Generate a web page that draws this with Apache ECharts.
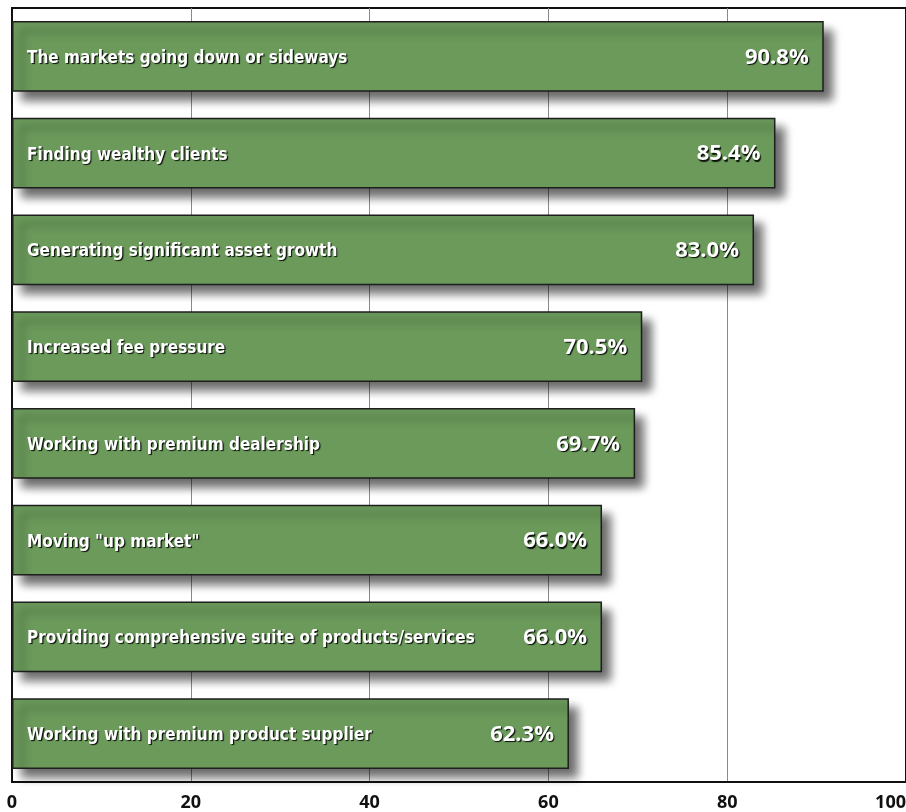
<!DOCTYPE html>
<html><head><meta charset="utf-8">
<script src="https://cdn.jsdelivr.net/npm/echarts@6/dist/echarts.min.js"></script>
<style>html,body{margin:0;padding:0;background:#fff}#c{width:906px;height:812px}</style>
</head><body><div id="c"></div>
<script>
const categories = [
  "The markets going down or sideways",
  "Finding wealthy clients",
  "Generating significant asset growth",
  "Increased fee pressure",
  "Working with premium dealership",
  "Moving \"up market\"",
  "Providing comprehensive suite of products/services",
  "Working with premium product supplier"
];
const values = [90.8, 85.4, 83.0, 70.5, 69.7, 66.0, 66.0, 62.3];
const xTicks = [0, 20, 40, 60, 80, 100];

const chart = echarts.init(document.getElementById('c'));
const shadowTxt = {textShadowColor:'rgba(0,0,0,0.9)', textShadowOffsetX:1.2, textShadowOffsetY:1.2, textShadowBlur:1};
chart.setOption({
  animation:false,
  grid:{left:12, right:0, top:8, bottom:30, containLabel:false, outerBoundsMode:'none',
    show:true, borderColor:'#111', borderWidth:2, backgroundColor:'transparent'},
  xAxis:{type:'value', min:0, max:100, interval:20,
    axisLine:{show:true, lineStyle:{color:'#111', width:2}},
    axisTick:{show:false},
    splitLine:{show:true, lineStyle:{color:'#8a8a8a', width:1}},
    axisLabel:{color:'#111', fontFamily:'Open Sans', fontWeight:'bold', fontSize:18, margin:12,
      alignMaxLabel:'right',
      formatter:v=>xTicks.includes(v)?String(v):''}
  },
  yAxis:{type:'category', data:categories, inverse:true,
    axisLine:{show:true, lineStyle:{color:'#111', width:2}},
    axisTick:{show:false}, axisLabel:{show:false}, splitLine:{show:false}
  },
  series:[
    {type:'bar', data:values, barCategoryGap:'27%', z:2,
      itemStyle:{color:'#6b9a5b', borderColor:'#1e1e1e', borderWidth:1.5,
        shadowColor:'rgba(0,0,0,0.6)', shadowBlur:9, shadowOffsetX:9, shadowOffsetY:9},
      label:{show:true, position:'insideRight', distance:15, offset:[0,1], color:'#fff',
        fontFamily:'Open Sans', fontWeight:'bold', fontSize:22,
        formatter:p=>p.value.toFixed(1)+'%', ...shadowTxt}
    },
    {type:'bar', data:values, barGap:'-100%', barCategoryGap:'27%', z:3, silent:true,
      itemStyle:{color:'rgba(0,0,0,0)'},
      label:{show:true, position:'insideLeft', distance:15, offset:[0,2], color:'#fff',
        fontFamily:'DejaVu Sans Condensed', fontWeight:'bold', fontSize:17,
        formatter:p=>p.name, ...shadowTxt}
    }
  ]
});
</script></body></html>
